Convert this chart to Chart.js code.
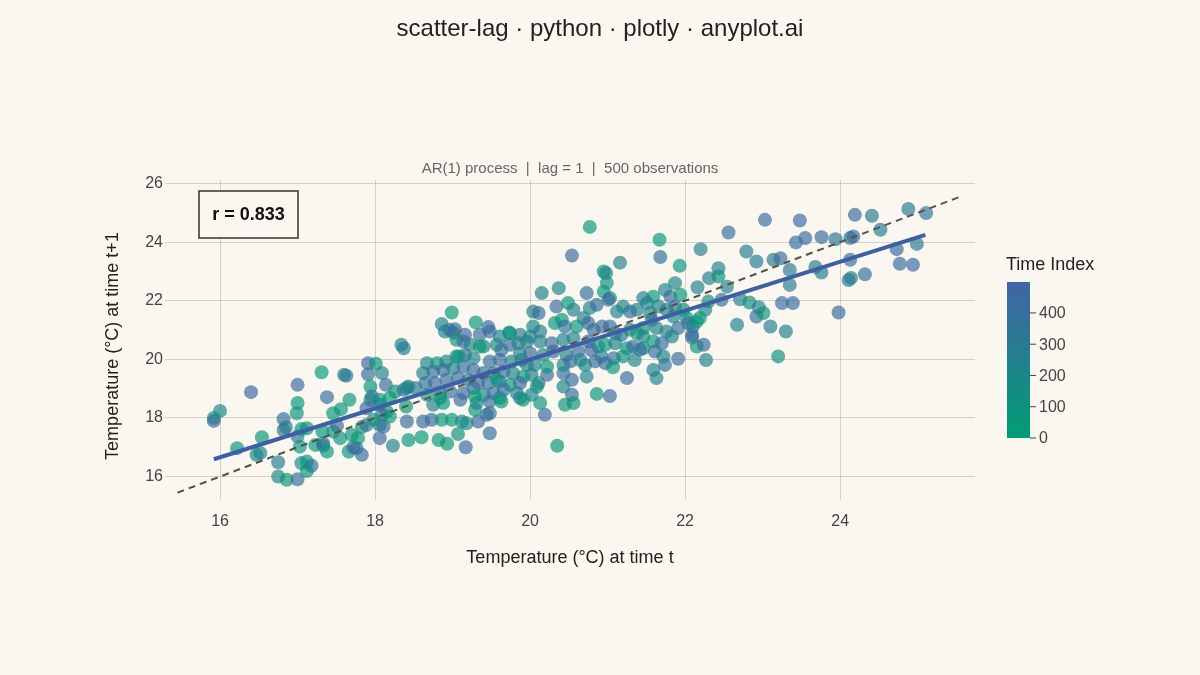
<!DOCTYPE html>
<html><head><meta charset="utf-8">
<script src="https://cdn.jsdelivr.net/npm/chart.js@4.4.1/dist/chart.umd.min.js"></script>
<style>html,body{margin:0;padding:0;background:#FAF7F0;}#wrap{width:1200px;height:675px;}</style>
</head><body><div id="wrap"><canvas id="c" width="1200" height="675"></canvas></div>
<script>
// Temperature at time t (x) and at time t+1 (y), plus time index (colour)
const tempT = [
15.92,15.92,16.00,16.40,16.22,16.54,16.52,16.47,16.75,16.75,
16.86,17.00,16.82,16.85,16.82,17.00,17.00,16.99,17.00,17.05,
17.12,17.03,17.05,17.12,17.18,17.12,17.31,17.38,17.63,17.60,
17.67,17.46,17.56,17.32,17.46,17.51,17.23,17.33,17.33,17.38,
17.55,17.66,17.72,17.76,17.83,17.70,17.78,17.83,17.89,17.91,
18.01,17.91,18.09,17.94,17.96,17.94,18.14,18.06,18.19,18.26,
18.37,18.43,17.89,18.06,18.15,18.09,17.98,18.06,18.11,18.19,
18.06,18.23,18.41,18.43,18.34,18.37,
18.99,18.86,18.96,19.03,19.30,19.46,20.02,20.09,20.02,18.41,
18.52,18.40,18.62,18.73,18.86,18.99,19.12,19.18,19.33,19.44,
19.48,19.29,18.60,18.82,18.93,19.07,19.17,19.48,
18.90,19.01,19.16,19.35,19.48,19.61,19.74,19.87,19.05,19.14,
19.23,19.40,19.57,19.74,19.85,19.96,19.63,19.87,18.67,18.80,
18.92,19.05,19.16,19.27,19.48,19.61,19.76,19.89,19.96,18.62,
18.75,18.88,19.01,19.14,19.27,19.40,19.53,19.66,19.78,19.91,
18.65,18.77,18.92,19.07,19.20,19.33,19.46,19.61,19.74,19.87,
18.67,18.84,18.97,19.14,19.27,19.40,19.53,19.66,19.83,18.75,
18.88,19.10,19.31,19.48,19.61,19.87,
19.08,19.57,19.29,19.63,19.91,19.35,19.73,18.84,
20.54,21.16,21.67,21.68,20.95,20.98,20.11,20.22,20.43,20.43,
20.54,20.73,21.25,21.63,20.13,20.19,20.45,20.54,20.56,20.86,
21.03,20.35,21.74,21.59,20.77,
20.15,20.37,20.73,20.95,20.99,21.03,20.34,20.49,20.56,20.77,
20.86,21.01,21.12,21.20,21.29,21.38,20.04,20.11,20.04,20.13,
20.32,20.41,20.45,20.60,20.69,20.75,20.82,20.93,21.03,21.10,
21.18,21.29,21.38,20.00,20.13,20.28,20.43,20.56,20.75,20.88,
20.97,21.10,21.25,21.33,20.00,20.17,20.30,20.47,20.62,20.79,
20.92,21.08,21.20,21.35,20.06,20.22,20.43,20.52,20.65,20.71,
20.84,20.97,21.07,
21.59,21.51,21.46,21.66,21.55,21.57,21.46,21.63,21.46,21.59,21.46,21.61,21.42,
23.03,23.48,22.56,22.20,22.79,22.92,23.14,23.23,23.43,23.55,
21.93,22.31,22.43,22.43,22.54,22.16,21.87,23.35,23.35,21.74,
21.81,21.94,22.30,22.47,22.71,22.83,22.95,23.25,23.39,21.76,
21.87,21.98,22.26,21.85,22.02,22.19,22.92,23.01,22.04,22.10,
22.15,21.91,21.76,22.67,23.10,23.30,22.09,22.09,22.15,22.24,
21.83,21.70,21.91,22.27,23.20,21.72,
24.19,24.41,24.88,25.11,23.76,23.94,24.13,24.17,24.52,24.13,
24.73,24.99,23.68,23.76,24.11,24.14,24.32,24.77,24.94,23.98
];
const tempT1 = [
18.00,17.90,18.24,18.88,16.97,17.34,16.80,16.74,16.49,16.00,
15.89,15.91,17.96,17.69,17.59,19.13,18.51,18.16,17.37,17.62,
17.65,17.02,16.46,16.51,16.37,16.19,19.56,18.71,19.44,19.47,
18.62,18.16,18.30,17.54,17.54,17.73,17.08,17.14,17.05,16.85,
17.31,16.85,17.00,16.97,16.74,17.42,17.31,17.69,17.76,19.87,
19.85,19.49,19.53,19.07,18.73,18.62,19.13,18.62,18.68,18.90,
18.96,19.07,18.33,18.45,18.22,18.11,17.94,17.76,17.71,18.05,
17.31,17.05,17.88,17.25,20.50,20.38,
21.60,21.21,21.01,21.03,21.26,21.10,19.47,19.07,18.79,19.02,
19.02,18.39,17.88,17.94,17.94,17.94,17.88,17.82,17.88,18.11,
18.16,18.28,17.34,17.25,17.12,17.45,17.00,17.48,
20.95,20.91,20.84,20.84,20.95,20.78,20.89,20.84,20.67,20.61,
20.50,20.44,20.50,20.50,20.55,20.61,20.32,20.21,19.87,19.87,
19.93,20.10,20.15,20.04,19.93,19.98,19.93,19.98,19.81,19.53,
19.58,19.64,19.70,19.75,19.64,19.53,19.53,19.58,19.53,19.41,
19.19,19.19,19.30,19.36,19.30,19.19,19.19,19.24,19.13,19.19,
18.79,18.85,18.90,18.85,19.02,18.79,18.85,18.96,18.85,18.45,
18.51,18.62,18.51,18.56,18.68,18.68,
20.10,19.30,18.73,18.56,18.62,20.44,20.92,18.68,
23.54,23.30,24.08,23.49,23.00,22.94,19.19,19.47,19.53,19.07,
19.30,19.41,19.36,19.36,18.51,18.11,18.45,18.79,18.51,18.82,
18.75,17.05,19.81,19.64,24.52,
22.26,22.43,22.26,22.31,22.61,22.09,21.80,21.92,21.69,21.75,
21.86,22.03,21.63,21.80,21.63,21.69,21.63,21.58,21.12,20.95,
21.24,21.35,21.12,21.12,21.41,21.24,21.01,21.12,21.12,20.89,
20.84,21.01,20.89,20.78,20.61,20.55,20.67,20.72,20.61,20.44,
20.50,20.55,20.38,20.44,20.21,20.15,20.27,20.15,20.27,20.32,
20.10,20.04,20.10,19.98,19.81,19.75,19.81,19.93,19.98,19.81,
19.93,19.87,19.73,
22.14,21.92,22.09,21.80,21.58,21.35,21.07,21.07,20.78,20.61,20.38,20.27,20.33,
24.76,24.74,24.33,23.76,23.68,23.34,23.40,23.45,23.99,24.14,
23.19,22.77,23.11,22.83,22.48,22.46,22.60,23.05,22.54,22.37,
22.14,22.20,21.97,22.03,22.05,21.94,21.78,21.92,21.92,21.69,
21.80,21.69,21.69,21.46,21.41,21.41,21.46,21.58,21.24,21.12,
21.29,21.07,20.95,21.18,21.12,20.95,20.84,20.74,20.44,20.50,
20.78,20.55,20.02,19.98,20.10,20.10,
24.93,24.90,25.13,24.99,24.17,24.10,24.14,24.19,24.42,23.40,
23.76,23.94,23.15,22.96,22.71,22.78,22.90,23.26,23.23,21.60
];
const timeIndex = [
40,440,220,430,60,80,250,200,280,230,
50,420,400,240,380,430,60,70,400,40,
90,50,200,60,400,80,30,420,410,250,
50,40,80,60,90,380,70,230,360,40,
100,60,420,450,400,80,50,110,390,450,
60,420,240,40,440,260,420,70,30,90,
410,230,440,270,200,380,50,220,400,60,
430,250,440,60,240,280,
50,240,420,380,60,430,230,50,250,220,
270,60,430,410,70,40,230,200,440,420,
380,60,40,80,50,90,440,400,
240,420,440,400,430,260,220,280,60,410,
230,250,200,420,270,210,390,240,230,50,
210,260,430,220,400,440,250,230,290,240,
400,430,220,410,440,380,260,420,230,80,
410,440,390,420,250,430,400,450,70,420,
60,230,410,440,380,220,430,400,250,270,
40,430,240,410,200,230,
50,60,40,70,90,50,80,60,
420,260,60,400,70,240,210,430,400,230,
420,250,440,260,70,430,50,410,90,60,
420,80,400,240,80,
230,250,420,60,80,240,430,50,260,220,
400,440,250,230,410,270,240,420,220,260,
70,40,410,90,230,430,400,440,420,250,
390,210,60,240,270,430,220,260,410,50,
80,230,40,440,420,250,400,230,430,450,
260,410,90,220,240,60,200,420,250,230,
400,440,70,
60,230,260,240,220,420,70,250,230,50,80,430,410,
440,430,420,250,280,300,290,400,420,440,
60,250,270,100,240,260,230,300,320,240,
410,70,90,400,260,110,250,410,430,230,
420,60,240,220,80,50,400,120,430,260,
70,410,240,250,270,290,420,400,80,430,
230,410,440,250,130,230,
450,300,320,330,440,310,300,430,310,420,
440,330,310,280,300,290,400,420,440,430
];
// fitted regression line end points and the y = x reference line
const fitX = [15.92, 25.10];
const fitY = [16.59, 24.25];
const diagX = [15.45, 25.58];
const diagY = [15.45, 25.58];
const xTicks = [16, 18, 20, 22, 24];
const yTicks = [16, 18, 20, 22, 24, 26];
const cbTicks = [0, 100, 200, 300, 400];
const cbMax = 499;
const rLabel = "r = 0.833";
const titleText = "scatter-lag · python · plotly · anyplot.ai";
const subtitleText = "AR(1) process  |  lag = 1  |  500 observations";
const xTitle = "Temperature (°C) at time t";
const yTitle = "Temperature (°C) at time t+1";
const cbTitle = "Time Index";

const FONT = '"Liberation Sans", Arial, sans-serif';
const C0 = [0,158,115], C1 = [66,100,166];
function col(v, a) {
  const f = v / cbMax;
  const c = C0.map((c0, i) => Math.round(c0 + (C1[i] - c0) * f));
  return `rgba(${c[0]},${c[1]},${c[2]},${a})`;
}

const pts = tempT.map((x, i) => ({x: x, y: tempT1[i]}));

const deco = {
  id: 'deco',
  beforeDraw(chart) {
    const ctx = chart.ctx;
    ctx.save();
    ctx.fillStyle = '#FAF7F0';
    ctx.fillRect(0, 0, chart.width, chart.height);
    ctx.restore();
  },
  afterDraw(chart) {
    const ctx = chart.ctx, a = chart.chartArea;
    const cx = (a.left + a.right) / 2;
    ctx.save();
    ctx.textAlign = 'center'; ctx.textBaseline = 'middle';
    ctx.fillStyle = '#222';
    ctx.font = `24px ${FONT}`;
    ctx.fillText(titleText, 600, 29);
    ctx.fillStyle = '#666';
    ctx.font = `15px ${FONT}`;
    ctx.fillText(subtitleText, cx, a.top - 11);
    ctx.fillStyle = '#222';
    ctx.font = `18px ${FONT}`;
    ctx.fillText(xTitle, cx, a.bottom + 58);
    ctx.save();
    ctx.translate(113, (a.top + a.bottom) / 2 + 6);
    ctx.rotate(-Math.PI / 2);
    ctx.fillText(yTitle, 0, 0);
    ctx.restore();
    // r annotation
    const bx = a.left + 34, by = a.top + 11, bw = 99, bh = 47;
    ctx.fillStyle = '#FAF7F0';
    ctx.fillRect(bx, by, bw, bh);
    ctx.strokeStyle = '#333'; ctx.lineWidth = 1.5;
    ctx.strokeRect(bx, by, bw, bh);
    ctx.fillStyle = '#111';
    ctx.font = `bold 18px ${FONT}`;
    ctx.fillText(rLabel, bx + bw / 2, by + bh / 2 + 1);
    // colour bar
    const cbx = 1007, cbw = 23, cbTop = 282, cbBot = 438;
    const g = ctx.createLinearGradient(0, cbBot, 0, cbTop);
    g.addColorStop(0, col(0, 1)); g.addColorStop(1, col(cbMax, 1));
    ctx.fillStyle = g;
    ctx.fillRect(cbx, cbTop, cbw, cbBot - cbTop);
    ctx.fillStyle = '#222';
    ctx.textAlign = 'left';
    ctx.font = `18px ${FONT}`;
    ctx.fillText(cbTitle, cbx - 1, 265);
    ctx.font = `16px ${FONT}`;
    ctx.fillStyle = '#444';
    ctx.strokeStyle = '#444'; ctx.lineWidth = 1;
    cbTicks.forEach(v => {
      const y = cbBot - (v / cbMax) * (cbBot - cbTop);
      ctx.beginPath(); ctx.moveTo(cbx + cbw, y); ctx.lineTo(cbx + cbw + 6, y); ctx.stroke();
      ctx.fillText(String(v), cbx + cbw + 9, y + 1);
    });
    ctx.restore();
  }
};

new Chart(document.getElementById('c'), {
  data: {
    datasets: [
      {type: 'line', data: fitX.map((x, i) => ({x: x, y: fitY[i]})), borderColor: '#3F5FA5', borderWidth: 4, pointRadius: 0, order: 1},
      {type: 'line', data: diagX.map((x, i) => ({x: x, y: diagY[i]})), borderColor: '#57514b', borderWidth: 2, borderDash: [7, 5], pointRadius: 0, order: 2},
      {type: 'scatter', data: pts, backgroundColor: timeIndex.map(v => col(v, 0.68)), borderWidth: 0, pointRadius: 7, pointHoverRadius: 7, order: 3}
    ]
  },
  options: {
    responsive: false, animation: false,
    layout: {padding: {top: 180, right: 225, bottom: 0, left: 0}},
    plugins: {legend: {display: false}, tooltip: {enabled: false}},
    scales: {
      x: {type: 'linear', min: 15.29, max: 25.74,
          afterBuildTicks: s => { s.ticks = xTicks.map(v => ({value: v})); },
          afterFit: s => { s.height = 175; },
          grid: {color: 'rgba(70,60,50,0.2)', drawTicks: false},
          border: {display: false},
          ticks: {padding: 12, color: '#444', font: {family: FONT, size: 16}}},
      y: {type: 'linear', min: 15.2, max: 26.12,
          afterBuildTicks: s => { s.ticks = yTicks.map(v => ({value: v})); },
          afterFit: s => { s.width = 165; },
          grid: {color: 'rgba(70,60,50,0.2)', drawTicks: false},
          border: {display: false},
          ticks: {padding: 2, color: '#444', font: {family: FONT, size: 16}}}
    }
  },
  plugins: [deco]
});
</script></body></html>
